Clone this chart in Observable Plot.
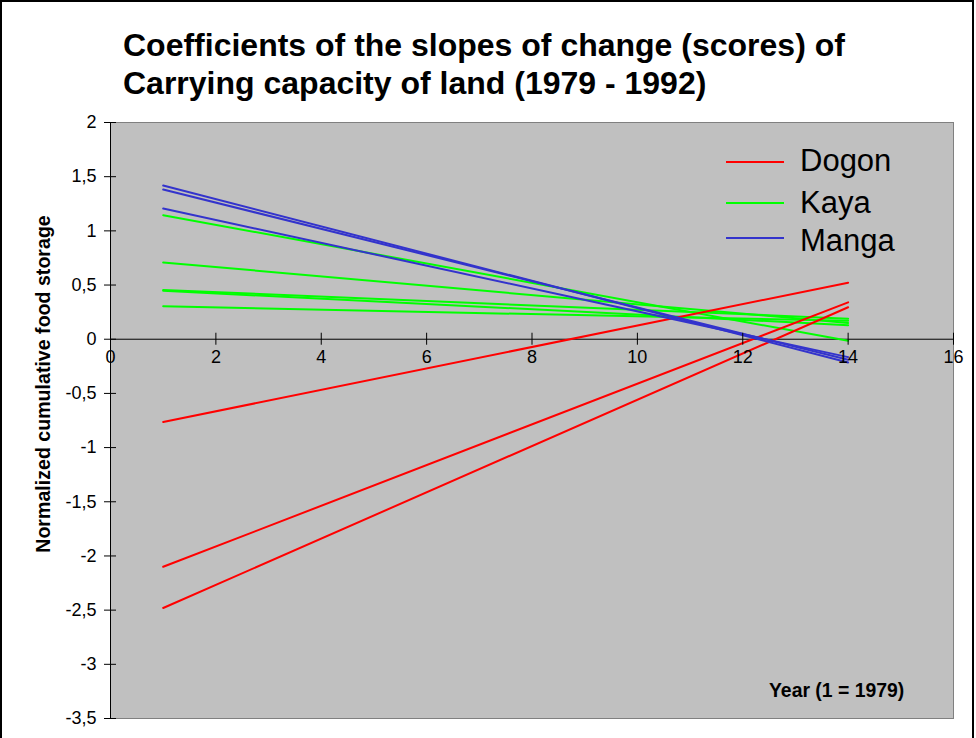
<!DOCTYPE html>
<html>
<head>
<meta charset="utf-8">
<script src="https://cdn.jsdelivr.net/npm/d3@7"></script>
<script src="https://cdn.jsdelivr.net/npm/@observablehq/plot@0.6"></script>
<style>
  body { margin: 0; background: #fff; }
  #wrap { position: relative; width: 976px; height: 738px; overflow: hidden; font-family: "Liberation Sans", Arial, sans-serif; color: #000; }
  #chart { position: absolute; left: 0; top: 0; }
  #border { position: absolute; left: 0; top: 0; width: 970px; height: 760px; border: 2px solid #000; pointer-events: none; }
  #title { position: absolute; left: 123px; top: 26px; font-size: 32px; font-weight: bold; line-height: 38px; white-space: nowrap; }
  #ytitle { position: absolute; left: 44px; top: 384px; font-size: 19.6px; font-weight: bold; line-height: 1; white-space: nowrap; transform: translate(-50%, -50%) rotate(-90deg); }
  #xtitle { position: absolute; left: 769px; top: 681px; font-size: 19.4px; font-weight: bold; line-height: 1; white-space: nowrap; }
  .lg-line { position: absolute; left: 726px; width: 58px; height: 1.5px; }
  .lg-text { position: absolute; left: 800px; font-size: 31px; line-height: 1; white-space: nowrap; transform: translateY(-50%); }
</style>
</head>
<body>
<div id="wrap">
  <div id="chart"></div>
  <div id="title">Coefficients of the slopes of change (scores) of<br>Carrying capacity of land (1979 - 1992)</div>
  <div id="ytitle">Normalized cumulative food storage</div>
  <div id="xtitle">Year (1 = 1979)</div>
  <div id="legend"></div>
  <div id="border"></div>
</div>
<script>
// ---- data ----
const years = [1, 14];                 // first and last year index of each fitted line
const seriesNames = ["Dogon", "Kaya", "Manga"];
const seriesColors = ["#FF0000", "#00FF00", "#3333CC"];

const dogonStart = [-0.764, -2.10, -2.48];
const dogonEnd   = [ 0.522,  0.34,  0.295];

const kayaStart  = [1.145, 0.709, 0.455, 0.447, 0.304];
const kayaEnd    = [-0.015, 0.15, 0.19, 0.13, 0.17];

const mangaStart = [1.418, 1.381, 1.206];
const mangaEnd   = [-0.215, -0.19, -0.165];

const xTicks = [0, 2, 4, 6, 8, 10, 12, 14, 16];
const yTicks = [2, 1.5, 1, 0.5, 0, -0.5, -1, -1.5, -2, -2.5, -3, -3.5];

// ---- build table ----
function rowsFor(name, starts, ends) {
  const out = [];
  starts.forEach((s, i) => {
    out.push({series: name, id: name + i, x: years[0], y: s});
    out.push({series: name, id: name + i, x: years[1], y: ends[i]});
  });
  return out;
}
const kayaRows = rowsFor("Kaya", kayaStart, kayaEnd);
const dogonRows = rowsFor("Dogon", dogonStart, dogonEnd);
const mangaRows = rowsFor("Manga", mangaStart, mangaEnd);

const fmt = d => String(d).replace(".", ",");

const lineOpts = {x: "x", y: "y", z: "id", stroke: "series", strokeWidth: 2};

const chart = Plot.plot({
  width: 976,
  height: 738,
  marginLeft: 110,
  marginRight: 23,
  marginTop: 122,
  marginBottom: 20,
  style: {fontFamily: "'Liberation Sans', Arial, sans-serif", fontSize: "18px", background: "transparent", color: "#000"},
  x: {domain: [0, 16], axis: null},
  y: {domain: [-3.5, 2], axis: null},
  color: {domain: seriesNames, range: seriesColors},
  marks: [
    Plot.frame({fill: "#C0C0C0", stroke: "#808080"}),
    Plot.ruleY([0], {stroke: "#000", strokeWidth: 1}),
    Plot.ruleX([0], {stroke: "#000", strokeWidth: 1}),
    Plot.line(kayaRows, lineOpts),
    Plot.line(dogonRows, lineOpts),
    Plot.line(mangaRows, lineOpts),
    Plot.ruleY(yTicks, {y: d => d, x1: 0, x2: 0, insetLeft: -6, insetRight: -6, stroke: "#000"}),
    Plot.ruleX(xTicks, {x: d => d, y1: 0, y2: 0, insetTop: -6, insetBottom: -6, stroke: "#000"}),
    Plot.text(yTicks, {x: 0, y: d => d, text: fmt, textAnchor: "end", dx: -14, fill: "#000"}),
    Plot.text(xTicks, {x: d => d, y: 0, text: fmt, dy: 18, fill: "#000"})
  ]
});
document.getElementById("chart").appendChild(chart);

// legend
const legendRows = [161, 202, 237];
const legendText = [160, 202, 240];
const lg = document.getElementById("legend");
seriesNames.forEach((name, i) => {
  const l = document.createElement("div");
  l.className = "lg-line";
  l.style.top = legendRows[i] + "px";
  l.style.backgroundColor = seriesColors[i];
  lg.appendChild(l);
  const t = document.createElement("div");
  t.className = "lg-text";
  t.style.top = legendText[i] + "px";
  t.textContent = name;
  lg.appendChild(t);
});
</script>
</body>
</html>
